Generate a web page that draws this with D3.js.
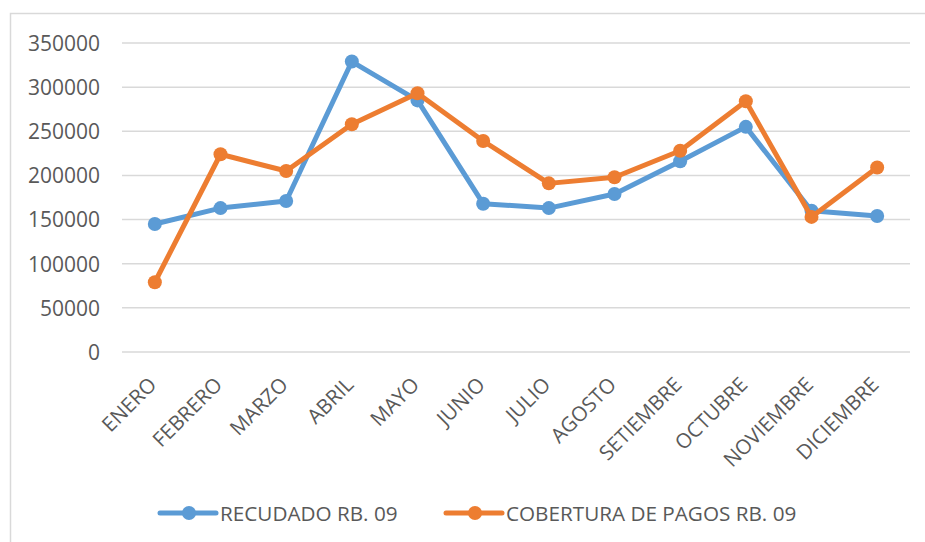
<!DOCTYPE html>
<html><head><meta charset="utf-8">
<script src="https://cdn.jsdelivr.net/npm/d3@7/dist/d3.min.js"></script>
<style>
html,body{margin:0;padding:0;background:#fff;}
svg text{font-family:"Open Sans",sans-serif;fill:#595959;}
</style></head>
<body>
<svg id="c" width="925" height="542"></svg>
<script>
const categories = ["ENERO","FEBRERO","MARZO","ABRIL","MAYO","JUNIO","JULIO","AGOSTO","SETIEMBRE","OCTUBRE","NOVIEMBRE","DICIEMBRE"];
const recaudado = [145000,163000,171000,329000,285000,168000,163000,179000,216000,255000,160000,154000];
const cobertura = [79000,224000,205000,258000,293000,239000,191000,198000,228000,284000,153000,209000];
const yTicks = [0,50000,100000,150000,200000,250000,300000,350000];
const seriesNames = ["RECUDADO RB. 09","COBERTURA DE PAGOS RB. 09"];
const colors = ["#5B9BD5","#ED7D31"];

(function(){
const svg = d3.select("#c");
const pL = 122, pR = 910, pT = 43, pB = 352;
const x = d3.scaleBand().domain(categories).range([pL,pR]);
const y = d3.scaleLinear().domain([0,350000]).range([pB,pT]);

svg.append("rect").attr("x",10.5).attr("y",13.5).attr("width",1000).attr("height",1000)
  .attr("fill","none").attr("stroke","#d9d9d9").attr("stroke-width",1.5);

// grid
svg.append("g").selectAll("line").data(yTicks).join("line")
  .attr("x1",pL).attr("x2",pR).attr("y1",d=>y(d)).attr("y2",d=>y(d))
  .attr("stroke","#d9d9d9").attr("stroke-width",1.5);

// y axis labels
const yAxis = d3.axisLeft(y).tickValues(yTicks).tickSize(0).tickPadding(0).tickFormat(d3.format("d"));
const ga = svg.append("g").attr("transform",`translate(100,0)`).call(yAxis);
ga.select(".domain").remove();
ga.selectAll("text").attr("font-size","21px").attr("font-family","Open Sans").attr("fill","#595959").attr("dy","0.35em");

// x labels
const gx = svg.append("g");
gx.selectAll("text").data(categories).join("text")
  .attr("transform",d=>`translate(${x(d)+x.bandwidth()/2+3},386) rotate(-45)`)
  .attr("text-anchor","end").attr("font-size","20.5px").text(d=>d);

// lines
const series = [recaudado, cobertura];
const line = d3.line().x((d,i)=>x(categories[i])+x.bandwidth()/2).y(d=>y(d));
series.forEach((s,k)=>{
  svg.append("path").datum(s).attr("d",line).attr("fill","none")
    .attr("stroke",colors[k]).attr("stroke-width",5).attr("stroke-linejoin","round").attr("stroke-linecap","round");
  svg.append("g").selectAll("circle").data(s).join("circle")
    .attr("cx",(d,i)=>x(categories[i])+x.bandwidth()/2).attr("cy",d=>y(d)).attr("r",7)
    .attr("fill",colors[k]);
});

// legend
const legX = [160, 446];
seriesNames.forEach((n,k)=>{
  const g = svg.append("g").attr("transform",`translate(${legX[k]},513)`);
  g.append("line").attr("x1",0).attr("x2",56).attr("stroke",colors[k]).attr("stroke-width",5).attr("stroke-linecap","round");
  g.append("circle").attr("cx",29).attr("r",7).attr("fill",colors[k]);
  g.append("text").attr("x",60).attr("y",8).attr("font-size","20.7px").text(n);
});
})();
</script>
</body></html>
